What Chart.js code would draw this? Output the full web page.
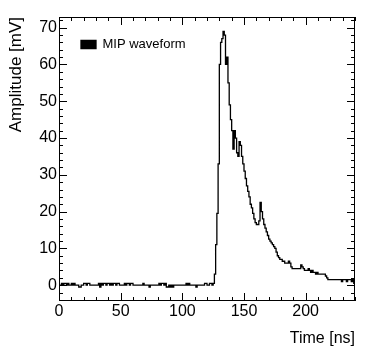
<!DOCTYPE html>
<html>
<head>
<meta charset="utf-8">
<title>MIP waveform</title>
<script src="https://cdn.jsdelivr.net/npm/chart.js@4.4.1/dist/chart.umd.min.js"></script>
<style>
    html, body { margin: 0; padding: 0; background: #fff; }
    canvas { display: block; }
</style>
</head>
<body>
<canvas id="waveform-chart" width="374" height="359"></canvas>
<script>
// Histogram bins: 1 ns wide, starting at 0 ns
const binWidthNs = 1;

// Amplitude per bin [mV]
const amplitude = [
    0, 0, 0.5, 0, 0.5, 0.5, 0, 0.5, 0, 0,
    0.5, 0, 0.5, 0, 0, 0, -0.5, -0.5, 0, 0,
    0.5, 0.5, 0, 0.5, 0.5, 0, 0, 0, 0, 0,
    0, 0, 0.5, -0.5, 0.5, 0, 0.5, 0.5, 0, 0.5,
    0.5, 0, 0.5, 0, 0.5, 0.5, 0, 0.5, 0.5, 0,
    0, 0, 0, 0.5, 0, 0.5, 0.5, 0, 0.5, 0.5,
    0, 0, 0, 0, 0, 0, 0, 0, 0.5, 0,
    0, 0, 0, -0.5, 0, 0, 0, 0, 0, 0,
    0, 0.5, 0, 0.5, 0.5, 0, 0.5, -0.5, -0.5, 0,
    -0.5, 0, -0.5, 0, 0, 0, 0, 0, 0, 0,
    0, 0, 0, 0.5, 0, 0.5, 0, 0, 0, 0,
    0, -0.5, 0, 0, 0, 0, 0, 0, 0.5, 0.5,
    0, 0, 0.5, 0.5, 0, 0.5, 3, 11, 19.5, 33,
    60, 66, 67, 69, 68, 60, 62, 55, 49, 45,
    42, 37, 42, 40, 36, 35, 39, 38, 35, 33,
    31, 29, 27, 25.5, 24, 22, 21, 19.5, 18, 17,
    16.5, 16.5, 17.5, 22.5, 20, 18, 16.5, 15.5, 14.5, 13.5,
    12.5, 12, 11.5, 11, 10.5, 10, 9, 8, 7.5, 7,
    7, 6.5, 6.5, 6, 6, 6, 6.5, 6, 5, 4.5,
    4.5, 4.5, 4.5, 4.5, 4.5, 4.5, 5.5, 5, 4.5, 4,
    4, 4, 4.5, 4, 3.5, 4, 3.5, 3.5, 3, 3.5,
    3, 3, 3, 3, 3, 3, 2.5, 2, 1.5, 1.5,
    1.5, 1.5, 1.5, 1.5, 1.5, 1.5, 1.5, 1.5, 1.5, 1,
    1.5, 1.5, 1.5, 1, 1.5, 1.5, 1.5, 1, 1.5, 0.5
];

// Axis ranges and labelled ticks
const xRange = [0, 240];
const yRange = [-4.3, 72.9];
const xTickLabels = [0, 50, 100, 150, 200];
const yTickLabels = [0, 10, 20, 30, 40, 50, 60, 70];
const xMinorStep = 10;
const yMinorStep = 2;

const FONT = "'Liberation Sans', Arial, Helvetica, sans-serif";
Chart.defaults.font.family = FONT;
Chart.defaults.color = '#000';

// Build histogram points at bin edges (stepped line holds value to next edge)
function histogramPoints(values) {
    const pts = values.map((v, i) => ({ x: i * binWidthNs, y: v }));
    pts.push({ x: values.length * binWidthNs, y: values[values.length - 1] });
    return pts;
}

/**
 * ROOT-like frame: box around the plot area with inward
 * major/minor ticks on all four sides.
 */
const rootFrame = {
    id: 'rootFrame',
    afterDatasetsDraw(chart) {
        const { ctx, chartArea: a, scales: { x, y } } = chart;
        ctx.save();
        ctx.strokeStyle = '#000';
        ctx.lineWidth = 1;
        ctx.beginPath();

        for (let v = xRange[0]; v <= xRange[1]; v += xMinorStep) {
            const px = Math.round(x.getPixelForValue(v)) + 0.5;
            const len = xTickLabels.includes(v) ? 8 : 4;
            ctx.moveTo(px, a.bottom);
            ctx.lineTo(px, a.bottom - len);
            ctx.moveTo(px, a.top);
            ctx.lineTo(px, a.top + len);
        }

        const yStart = Math.ceil(yRange[0] / yMinorStep) * yMinorStep;
        for (let v = yStart; v <= yRange[1]; v += yMinorStep) {
            const py = Math.round(y.getPixelForValue(v)) + 0.5;
            const len = yTickLabels.includes(v) ? 8 : 4;
            ctx.moveTo(a.left, py);
            ctx.lineTo(a.left + len, py);
            ctx.moveTo(a.right, py);
            ctx.lineTo(a.right - len, py);
        }
        ctx.stroke();

        ctx.strokeRect(a.left + 0.5, a.top + 0.5, a.width - 1, a.height - 1);
        ctx.restore();
    }
};

const ctx = document.getElementById('waveform-chart').getContext('2d');

new Chart(ctx, {
    type: 'line',
    data: {
        datasets: [{
            label: 'MIP waveform',
            data: histogramPoints(amplitude),
            stepped: 'before',
            borderColor: '#000',
            backgroundColor: '#000',
            borderWidth: 1.3,
            pointRadius: 0,
            fill: false
        }]
    },
    options: {
        responsive: false,
        animation: false,
        devicePixelRatio: 1,
        layout: {
            padding: { left: 0, right: 19, top: 17, bottom: 0 }
        },
        scales: {
            x: {
                type: 'linear',
                min: xRange[0],
                max: xRange[1],
                afterBuildTicks: (scale) => {
                    scale.ticks = xTickLabels.map(v => ({ value: v }));
                },
                afterFit: (scale) => { scale.height = 58; },
                grid: { display: false, drawTicks: false },
                border: { display: false },
                ticks: {
                    font: { size: 16 },
                    padding: 1,
                    maxRotation: 0
                },
                title: {
                    display: true,
                    text: 'Time [ns]',
                    align: 'end',
                    font: { size: 16 },
                    padding: { top: 0, bottom: 11 }
                }
            },
            y: {
                type: 'linear',
                min: yRange[0],
                max: yRange[1],
                afterBuildTicks: (scale) => {
                    scale.ticks = yTickLabels.map(v => ({ value: v }));
                },
                afterFit: (scale) => { scale.width = 59; },
                grid: { display: false, drawTicks: false },
                border: { display: false },
                ticks: {
                    font: { size: 16 },
                    padding: 2
                },
                title: {
                    display: true,
                    text: 'Amplitude [mV]',
                    align: 'end',
                    font: { size: 17 },
                    padding: { top: 6, bottom: 0 }
                }
            }
        },
        plugins: {
            legend: {
                display: true,
                position: 'chartArea',
                align: 'start',
                title: {
                    // empty title only used to push the entry down
                    display: true,
                    text: ' ',
                    font: { size: 10 },
                    padding: { top: 4, bottom: 0 }
                },
                labels: {
                    boxWidth: 15,
                    boxHeight: 8,
                    padding: 22,
                    font: { size: 13 },
                    color: '#000'
                }
            },
            tooltip: { enabled: false }
        }
    },
    plugins: [rootFrame]
});
</script>
</body>
</html>
